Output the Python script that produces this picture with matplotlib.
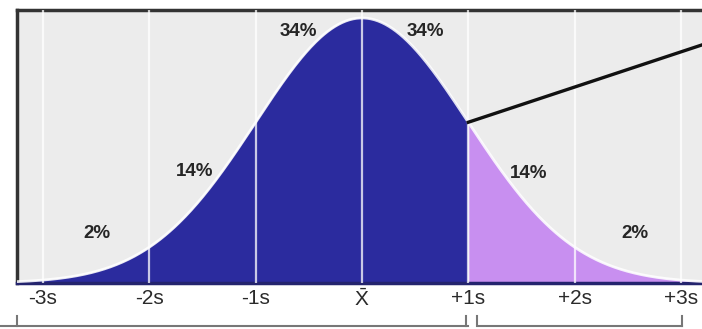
import numpy as np
import matplotlib.pyplot as plt

plt.rcParams['font.family'] = ['Liberation Sans', 'DejaVu Sans']
plt.rcParams['mathtext.fontset'] = 'custom'
plt.rcParams['mathtext.rm'] = 'Liberation Sans'

# standard normal: mean 0, sd 1, drawn in units of s
mean = 0.0
sd = 1.0
sigma_ticks = [-3, -2, -1, 0, 1, 2, 3]
tick_labels = ['-3s', '-2s', '-1s', r'$\bar{\mathrm{X}}$', '+1s', '+2s', '+3s']

# share of area in each band, and where the label sits (x in s, y as axes fraction)
band_pct = ['2%', '14%', '34%', '34%', '14%', '2%']
pct_x = [-2.49, -1.57, -0.60, 0.60, 1.57, 2.57]
pct_y = [0.18, 0.41, 0.92, 0.92, 0.40, 0.18]

dark_blue = '#2b2b9e'
light_purple = '#c88ff0'


def normal_pdf(x, mu, s):
    return np.exp(-0.5 * ((x - mu) / s) ** 2) / (s * np.sqrt(2 * np.pi))


x = np.linspace(-3.4, 3.4, 600)
y = normal_pdf(x, mean, sd)
peak = normal_pdf(mean, mean, sd)

fig = plt.figure(figsize=(7.02, 3.29), dpi=100)
ax = fig.add_axes([17 / 702, 46 / 329, 690 / 702, 273 / 329])
ax.set_facecolor('#ececec')

# everything up to +1s is dark, the upper tail is light
left = x <= mean + sd
ax.fill_between(x, 0, y, where=left, color=dark_blue, lw=0, zorder=2)
ax.fill_between(x, 0, y, where=x >= mean + sd, color=light_purple, lw=0, zorder=2)
ax.plot(x, y, color='white', lw=2.0, alpha=0.85, zorder=3)

for t in sigma_ticks:
    ax.axvline(mean + t * sd, color='white', lw=1.6, alpha=0.75, zorder=4)

for label, px, py in zip(band_pct, pct_x, pct_y):
    ax.text(px, py, label, transform=ax.get_xaxis_transform(), ha='center', va='center',
            fontsize=13.5, fontweight='bold', color='#262626', zorder=5)

# pointer line from the +1s point up to the top right corner
x0 = mean + sd
y0 = normal_pdf(x0, mean, sd)
slope = (0.875 * peak * 1.03 - y0) / (3.22 - x0)
ax.plot([x0, 3.5], [y0, y0 + slope * (3.5 - x0)], color='#111111', lw=2.4, zorder=6)

ax.set_xlim(-3.245, 3.245)
ax.set_ylim(0, peak * 1.03)
ax.set_yticks([])
ax.set_xticks(sigma_ticks)
ax.set_xticklabels(tick_labels, fontsize=15, color='#2a2a2a')
ax.tick_params(axis='x', length=0, pad=4)

for side in ['top', 'left', 'right']:
    ax.spines[side].set_color('#333333')
    ax.spines[side].set_linewidth(2.5)
ax.spines['bottom'].set_color('#24246e')
ax.spines['bottom'].set_linewidth(2.5)

# bracket under the axis, split at +1s
tr = ax.get_xaxis_transform()
yb = -43 / 273
for a, b in [(-3.5, 1.0), (1.1, 3.01)]:
    ax.plot([a, b], [yb, yb], color='#777777', lw=1.5, transform=tr, clip_on=False)
for t in [-3.245, 0.98, 1.08, 3.01]:
    ax.plot([t, t], [yb, yb + 0.035], color='#777777', lw=1.5, transform=tr, clip_on=False)

fig.savefig('out.png', dpi=100)
